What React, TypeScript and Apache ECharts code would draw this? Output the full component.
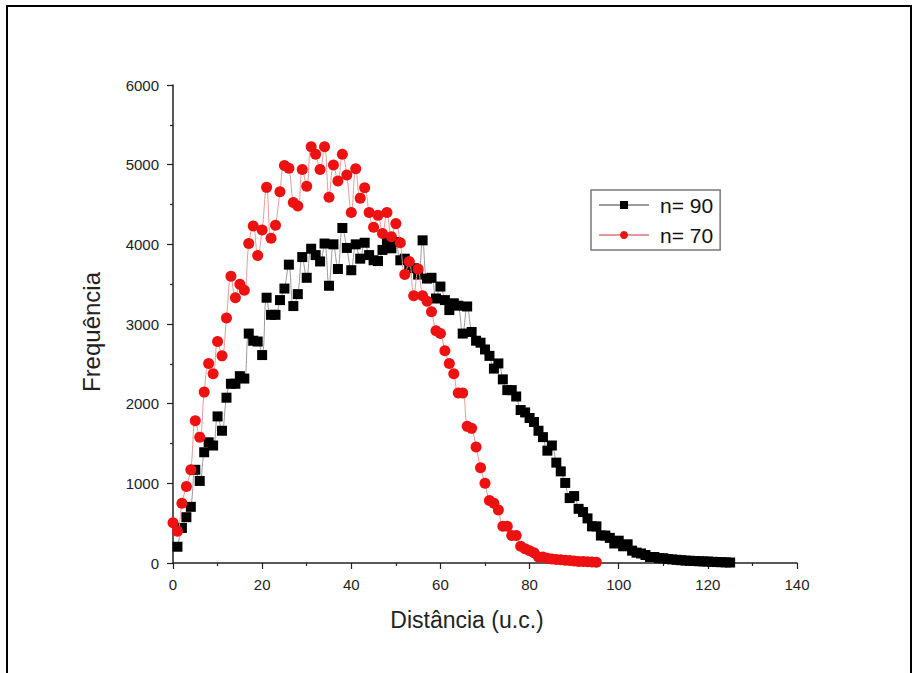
import React, { useEffect, useRef } from "react";
import * as echarts from "echarts";

// n = 90 (black squares), x = 1..125
const blackStartX = 1;
const blackValues = [
  204, 440, 575, 705, 1170, 1030, 1390, 1515, 1475, 1840,
  1660, 2075, 2250, 2250, 2345, 2315, 2880, 2790, 2780, 2610,
  3330, 3115, 3115, 3300, 3445, 3745, 3225, 3375, 3840, 3580,
  3945, 3865, 3785, 4010, 3480, 4000, 3690, 4205, 3955, 3675,
  4000, 3820, 4020, 3865, 3800, 3790, 3930, 4030, 3950, 4030,
  3800, 3820, 3740, 3700, 3620, 4050, 3570, 3580, 3320, 3470,
  3300, 3175, 3260, 3230, 2880, 3220, 2900, 2790, 2765, 2680,
  2600, 2440, 2505, 2305, 2170, 2170, 2090, 1920, 1890, 1820,
  1770, 1660, 1580, 1410, 1475, 1260, 1150, 1005, 815, 840,
  680, 640, 560, 460, 460, 345, 345, 315, 245, 280,
  210, 235, 155, 130, 120, 100, 75, 75, 60, 60,
  50, 45, 40, 35, 30, 28, 25, 22, 20, 18,
  15, 12, 10, 8, 6,
];

// n = 70 (red circles), x = 0..95
const redStartX = 0;
const redValues = [
  505, 400, 750, 960, 1170, 1785, 1580, 2145, 2505, 2375,
  2780, 2600, 3075, 3600, 3330, 3500, 3425, 4010, 4230, 3860,
  4180, 4715, 4075, 4240, 4660, 4990, 4955, 4525, 4480, 4940,
  4730, 5225, 5130, 4940, 5225, 4590, 4995, 4795, 5130, 4870,
  4400, 4950, 4580, 4710, 4400, 4215, 4365, 4135, 4400, 4095,
  4260, 4020, 3620, 3785, 3355, 3690, 3355, 3285, 3155, 2915,
  2880, 2665, 2505, 2375, 2135, 2135, 1715, 1690, 1455, 1195,
  1000, 785, 750, 665, 460, 460, 345, 345, 210, 180,
  155, 130, 75, 75, 60, 50, 45, 40, 35, 30,
  25, 20, 18, 15, 12, 10,
];

const seriesNames = ["n= 90", "n= 70"];
const xAxisName = "Distância (u.c.)";
const yAxisName = "Frequência";

const toPairs = (start: number, vals: number[]) => vals.map((v, i) => [start + i, v]);

export default function App() {
  const ref = useRef<HTMLDivElement>(null);

  useEffect(() => {
    document.body.style.margin = "0";
    if (!ref.current) return;
    const chart = echarts.init(ref.current, null, { renderer: "svg" });
    const font = "'Liberation Sans', Arial, sans-serif";
    chart.setOption({
      animation: false,
      backgroundColor: "#ffffff",
      textStyle: { fontFamily: font },
      grid: { left: 173, right: 120, top: 85, bottom: 110, containLabel: false },
      graphic: [
        {
          type: "rect",
          shape: { x: 7, y: 6, width: 904, height: 720 },
          style: { fill: "none", stroke: "#000", lineWidth: 2 },
          silent: true,
        },
      ],
      legend: {
        orient: "vertical",
        left: 591,
        top: 190,
        padding: [4, 7, 4, 7],
        itemWidth: 50,
        itemHeight: 10,
        itemGap: 8,
        borderColor: "#7a7a7a",
        borderWidth: 1.5,
        textStyle: { fontSize: 21, color: "#111", fontFamily: font, lineHeight: 22, padding: [0, 0, 0, 6] },
        data: seriesNames,
      },
      xAxis: {
        type: "value",
        min: 0,
        max: 140,
        interval: 20,
        name: xAxisName,
        nameLocation: "middle",
        nameGap: 45,
        nameTextStyle: { fontSize: 23, color: "#222", fontFamily: font, padding: [0, 36, 0, 0] },
        axisLine: { show: true, lineStyle: { color: "#222", width: 1.5 } },
        axisTick: { show: true, length: 6, lineStyle: { color: "#222", width: 1.2 } },
        minorTick: { show: true, splitNumber: 2, length: 3, lineStyle: { color: "#222", width: 1.2 } },
        axisLabel: { fontSize: 15, color: "#222", margin: 14, fontFamily: font },
        splitLine: { show: false },
        minorSplitLine: { show: false },
      },
      yAxis: {
        type: "value",
        min: 0,
        max: 6000,
        interval: 1000,
        name: yAxisName,
        nameLocation: "middle",
        nameGap: 70,
        nameTextStyle: { fontSize: 24, color: "#222", fontFamily: font, padding: [0, 16, 0, 0] },
        axisLine: { show: true, lineStyle: { color: "#222", width: 1.5 } },
        axisTick: { show: true, length: 6, lineStyle: { color: "#222", width: 1.2 } },
        minorTick: { show: true, splitNumber: 2, length: 3, lineStyle: { color: "#222", width: 1.2 } },
        axisLabel: { fontSize: 15, color: "#222", margin: 14, fontFamily: font, formatter: (v: number) => String(v) },
        splitLine: { show: false },
        minorSplitLine: { show: false },
      },
      series: [
        {
          name: seriesNames[0],
          type: "line",
          data: toPairs(blackStartX, blackValues),
          symbol: "rect",
          symbolSize: 10,
          smooth: 0.4,
          lineStyle: { color: "#9a9a9a", width: 1 },
          itemStyle: { color: "#000000" },
          z: 2,
        },
        {
          name: seriesNames[1],
          type: "line",
          data: toPairs(redStartX, redValues),
          symbol: "circle",
          symbolSize: 11,
          smooth: 0.4,
          lineStyle: { color: "#e89a9a", width: 1 },
          itemStyle: { color: "#ee1111" },
          z: 3,
        },
      ],
    });
    return () => chart.dispose();
  }, []);

  return (
    <div
      ref={ref}
      style={{ position: "absolute", left: 0, top: 0, width: 917, height: 673, background: "#fff" }}
    />
  );
}
